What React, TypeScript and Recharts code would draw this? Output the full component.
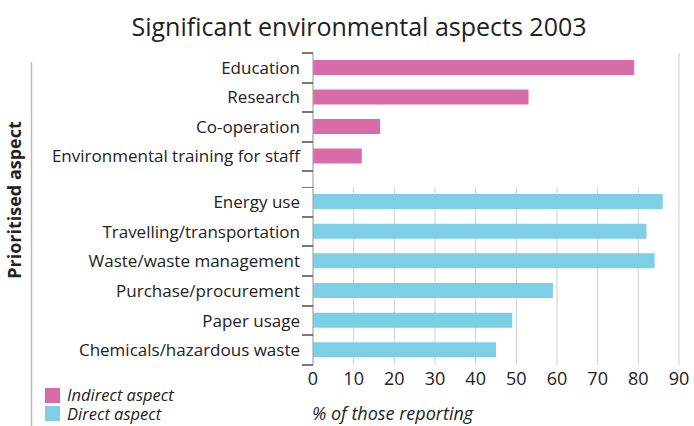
import React from 'react';
import { BarChart, Bar, XAxis, YAxis, CartesianGrid } from 'recharts';

// indirect aspects (pink block)
const indirectAspects = ['Education', 'Research', 'Co-operation', 'Environmental training for staff'];
const indirectValues = [79, 53, 16.5, 12];

// direct aspects (blue block)
const directAspects = [
  'Energy use',
  'Travelling/transportation',
  'Waste/waste management',
  'Purchase/procurement',
  'Paper usage',
  'Chemicals/hazardous waste',
];
const directValues = [86, 82, 84, 59, 49, 45];

const xTicks = [0, 10, 20, 30, 40, 50, 60, 70, 80, 90];
const legendLabels = ['Indirect aspect', 'Direct aspect'];

const PINK = '#d86ca8';
const BLUE = '#7dcfe6';
const TEXT = '#222';
const GRID = '#cfcfcf';

const indirectData = indirectAspects.map((name, i) => ({ name, value: indirectValues[i] }));
const directData = directAspects.map((name, i) => ({ name, value: directValues[i] }));

// label on the left plus the small marks between the rows
const CategoryTick = ({ x, y, payload, index, half, count }: any) => {
  const tx = Number(x);
  const ty = Number(y);
  const top = Math.round(ty - half);
  const bottom = Math.round(ty + half);
  return (
    <g>
      <text x={tx} y={ty} dy="0.36em" textAnchor="end" fontSize={17} fill={TEXT}>
        {payload.value}
      </text>
      <line x1={tx + 2} x2={tx + 13} y1={top} y2={top} stroke="#4a4a4a" strokeWidth={1.5} />
      {index === count - 1 && (
        <line x1={tx + 2} x2={tx + 13} y1={bottom} y2={bottom} stroke="#4a4a4a" strokeWidth={1.5} />
      )}
    </g>
  );
};

const TOP_PLOT = 118;
const BOTTOM_PLOT = 178;

export default function App() {
  const topHalf = TOP_PLOT / indirectData.length / 2;
  const bottomHalf = BOTTOM_PLOT / directData.length / 2;

  return (
    <div
      style={{
        position: 'absolute', left: 0, top: 0, width: 694, height: 426,
        background: '#fff', fontFamily: '"Open Sans", sans-serif', overflow: 'hidden',
      }}
    >
      <div style={{ position: 'absolute', left: 0, top: 0 }}>
        <BarChart
          width={694}
          height={187}
          data={indirectData}
          layout="vertical"
          margin={{ top: 53, right: 15, bottom: 0, left: 0 }}
        >
          <CartesianGrid horizontal={false} stroke={GRID} />
          <XAxis type="number" domain={[0, 90]} ticks={xTicks} height={0} tick={false} axisLine={false} tickLine={false} />
          <YAxis
            type="category"
            dataKey="name"
            width={313}
            padding={{ top: 0, bottom: 16 }}
            axisLine={{ stroke: '#aaa' }}
            tickLine={false}
            tickSize={0}
            tickMargin={13}
            interval={0}
            tick={(p: any) => <CategoryTick {...p} half={topHalf} count={indirectData.length} />}
          />
          <Bar dataKey="value" fill={PINK} barSize={15} isAnimationActive={false} />
        </BarChart>
      </div>

      <div style={{ position: 'absolute', left: 0, top: 187 }}>
        <BarChart
          width={694}
          height={239}
          data={directData}
          layout="vertical"
          margin={{ top: 0, right: 15, bottom: 21, left: 0 }}
        >
          <CartesianGrid horizontal={false} stroke={GRID} />
          <XAxis
            type="number"
            domain={[0, 90]}
            ticks={xTicks}
            height={40}
            axisLine={false}
            tickLine={false}
            tickSize={0}
            tickMargin={7}
            interval={0}
            tick={{ fontSize: 18, fill: TEXT }}
          />
          <YAxis
            type="category"
            dataKey="name"
            width={313}
            axisLine={{ stroke: '#aaa' }}
            tickLine={false}
            tickSize={0}
            tickMargin={13}
            interval={0}
            tick={(p: any) => <CategoryTick {...p} half={bottomHalf} count={directData.length} />}
          />
          <Bar dataKey="value" fill={BLUE} barSize={15} isAnimationActive={false} />
        </BarChart>
      </div>

      <svg width={694} height={426} style={{ position: 'absolute', left: 0, top: 0, pointerEvents: 'none' }}>
        <text x={359} y={36} textAnchor="middle" fontSize={25} fill={TEXT}>
          Significant environmental aspects 2003
        </text>
        <line x1={31.5} x2={31.5} y1={62} y2={426} stroke="#bbb" strokeWidth={1.5} />
        <text
          transform="translate(21, 200) rotate(-90)"
          textAnchor="middle"
          fontSize={18}
          fontWeight="bold"
          fill={TEXT}
        >
          Prioritised aspect
        </text>
        <text x={312} y={420} fontSize={18} fontStyle="italic" fill={TEXT}>
          % of those reporting
        </text>
        {legendLabels.map((label, i) => (
          <g key={label}>
            <rect x={45} y={388 + i * 18} width={15} height={15} fill={i === 0 ? PINK : BLUE} />
            <text x={67} y={401 + i * 19} fontSize={16.5} fontStyle="italic" fill={TEXT}>
              {label}
            </text>
          </g>
        ))}
      </svg>
    </div>
  );
}
